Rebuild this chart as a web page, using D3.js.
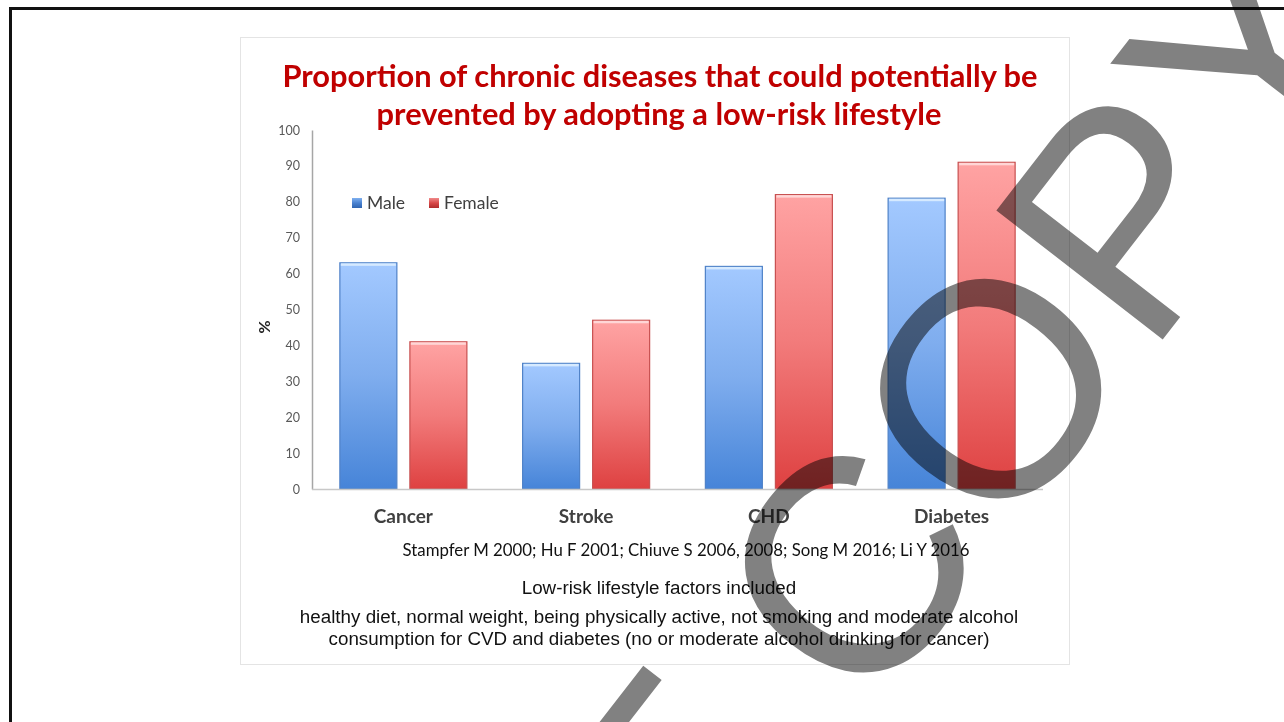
<!DOCTYPE html>
<html lang="en">
<head>
<meta charset="utf-8">
<title>Proportion of chronic diseases preventable by a low-risk lifestyle</title>
<script src="https://cdn.jsdelivr.net/npm/d3@7"></script>
<style>
  body { margin: 0; background: #fff; }
  svg { display: block; }
</style>
</head>
<body>
<div id="chart"></div>
<script>
  // values
  var categories = ["Cancer", "Stroke", "CHD", "Diabetes"];
  var series = ["Male", "Female"];
  var male = [63, 35, 62, 81];
  var female = [41, 47, 82, 91];
  var yTicks = d3.range(0, 101, 10);

  var width = 1284, height = 722;
  var svg = d3.select("#chart").append("svg")
      .attr("width", width)
      .attr("height", height);

  var defs = svg.append("defs");
  function grad(id, top, mid, bottom) {
    var g = defs.append("linearGradient").attr("id", id)
        .attr("x1", 0).attr("y1", 0).attr("x2", 0).attr("y2", 1);
    g.append("stop").attr("offset", "0%").attr("stop-color", top);
    g.append("stop").attr("offset", "50%").attr("stop-color", mid);
    g.append("stop").attr("offset", "100%").attr("stop-color", bottom);
  }
  grad("gMale", "#a3c9ff", "#7fadee", "#4684d8");
  grad("gFemale", "#ffa3a3", "#f27b7b", "#de4141");
  grad("sMale", "#7fb0f0", "#4a82d0", "#2f64b0");
  grad("sFemale", "#f08a8a", "#d84848", "#b02c2c");
  var fills = { Male: "url(#gMale)", Female: "url(#gFemale)" };
  var edges = { Male: "#4f82c8", Female: "#c85050" };
  var swatch = { Male: "url(#sMale)", Female: "url(#sFemale)" };

  // slide frame and picture frame
  svg.append("rect").attr("x", 10.5).attr("y", 8.5)
      .attr("width", 1290).attr("height", 800)
      .attr("fill", "#fff").attr("stroke", "#111").attr("stroke-width", 3);
  svg.append("rect").attr("x", 240.5).attr("y", 37.5)
      .attr("width", 829).attr("height", 627)
      .attr("fill", "#fff").attr("stroke", "#e4e4e4").attr("stroke-width", 1);

  // title
  var title = svg.append("text")
      .attr("text-anchor", "middle")
      .attr("font-family", "Lato, 'Open Sans', sans-serif")
      .attr("font-weight", "bold")
      .attr("font-size", 30.8)
      .attr("fill", "#c00000");
  title.append("tspan").attr("x", 660).attr("y", 87)
      .text("Proportion of chronic diseases that could potentially be");
  title.append("tspan").attr("x", 659).attr("y", 125)
      .text("prevented by adopting a low-risk lifestyle");

  var y = d3.scaleLinear().domain([0, 100]).range([489, 130]);
  var x = d3.scaleBand().domain(categories).range([312, 1043]);
  var x1 = d3.scaleBand().domain(series).range([0, x.bandwidth()])
      .paddingInner(0.186).paddingOuter(0.398);

  // y axis
  var yAxis = svg.append("g")
      .attr("transform", "translate(312,0)")
      .call(d3.axisLeft(y).tickValues(yTicks).tickSize(0).tickPadding(12));
  yAxis.select(".domain").attr("stroke", "#a6a6a6").attr("stroke-width", 1.5);
  yAxis.selectAll("text")
      .attr("font-family", "Lato, sans-serif")
      .attr("font-size", 12.5)
      .attr("fill", "#595959");

  svg.append("text")
      .attr("transform", "translate(270,327) rotate(-90)")
      .attr("text-anchor", "middle")
      .attr("font-family", "Lato, sans-serif")
      .attr("font-weight", "bold")
      .attr("font-size", 16)
      .attr("fill", "#222")
      .text("%");

  // bars
  var rows = categories.map(function(c, i) {
    return { cat: c, values: [{ s: "Male", v: male[i] }, { s: "Female", v: female[i] }] };
  });
  var groups = svg.selectAll("g.cat").data(rows).enter().append("g")
      .attr("class", "cat")
      .attr("transform", function(d) { return "translate(" + x(d.cat) + ",0)"; });
  groups.selectAll("rect.bar").data(function(d) { return d.values; }).enter().append("rect")
      .attr("class", "bar")
      .attr("x", function(d) { return x1(d.s); })
      .attr("y", function(d) { return y(d.v); })
      .attr("width", x1.bandwidth())
      .attr("height", function(d) { return y(0) - y(d.v); })
      .attr("fill", function(d) { return fills[d.s]; })
      .attr("stroke", function(d) { return edges[d.s]; })
      .attr("stroke-width", 1.2);
  groups.selectAll("rect.hi").data(function(d) { return d.values; }).enter().append("rect")
      .attr("class", "hi")
      .attr("x", function(d) { return x1(d.s) + 1; })
      .attr("y", function(d) { return y(d.v) + 0.5; })
      .attr("width", x1.bandwidth() - 2)
      .attr("height", 2.5)
      .attr("fill", function(d) { return d.s === "Male" ? "#d6eaff" : "#ffd6d6"; });

  // x baseline
  svg.append("line")
      .attr("x1", 312).attr("x2", 1043)
      .attr("y1", y(0) + 0.5).attr("y2", y(0) + 0.5)
      .attr("stroke", "#c8c8c8").attr("stroke-width", 1.5);

  // category labels
  svg.selectAll("text.cat").data(categories).enter().append("text")
      .attr("class", "cat")
      .attr("x", function(d) { return x(d) + x.bandwidth() / 2; })
      .attr("y", 523)
      .attr("text-anchor", "middle")
      .attr("font-family", "Lato, sans-serif")
      .attr("font-weight", "bold")
      .attr("font-size", 19)
      .attr("fill", "#404040")
      .text(function(d) { return d; });

  // legend
  var legend = svg.selectAll("g.leg").data(series).enter().append("g")
      .attr("class", "leg")
      .attr("transform", function(d, i) { return "translate(" + (352 + i * 77) + ",198)"; });
  legend.append("rect").attr("width", 10).attr("height", 10)
      .attr("fill", function(d) { return swatch[d]; });
  legend.append("text").attr("x", 15).attr("y", 11)
      .attr("font-family", "Lato, sans-serif")
      .attr("font-size", 17.5)
      .attr("fill", "#404040")
      .text(function(d) { return d; });

  // notes
  svg.append("text").attr("x", 686).attr("y", 556)
      .attr("text-anchor", "middle")
      .attr("font-family", "Lato, sans-serif")
      .attr("font-size", 16.8)
      .attr("fill", "#111")
      .text("Stampfer M 2000; Hu F 2001; Chiuve S 2006, 2008; Song M 2016; Li Y 2016");

  var notes = ["Low-risk lifestyle factors included",
    "healthy diet, normal weight, being physically active, not smoking and moderate alcohol",
    "consumption for CVD and diabetes (no or moderate alcohol drinking for cancer)"];
  var noteY = [594, 623, 645];
  svg.selectAll("text.note").data(notes).enter().append("text")
      .attr("class", "note")
      .attr("x", 659)
      .attr("y", function(d, i) { return noteY[i]; })
      .attr("text-anchor", "middle")
      .attr("font-family", "'Liberation Sans', Arial, sans-serif")
      .attr("font-size", 18.8)
      .attr("fill", "#111")
      .text(function(d) { return d; });

  // watermark
  var wm = svg.append("g")
      .attr("transform", "translate(866,722) rotate(-52.2)")
      .style("mix-blend-mode", "multiply");
  wm.append("text").attr("x", 0).attr("y", 0)
      .attr("font-family", "'Liberation Sans', Arial, sans-serif")
      .attr("font-size", 306)
      .attr("fill", "#818181")
      .text("COPY");
  wm.append("text").attr("x", -85).attr("y", 0)
      .attr("text-anchor", "end")
      .attr("font-family", "'Liberation Sans', Arial, sans-serif")
      .attr("font-size", 306)
      .attr("fill", "#818181")
      .text("NOT");
</script>
</body>
</html>
